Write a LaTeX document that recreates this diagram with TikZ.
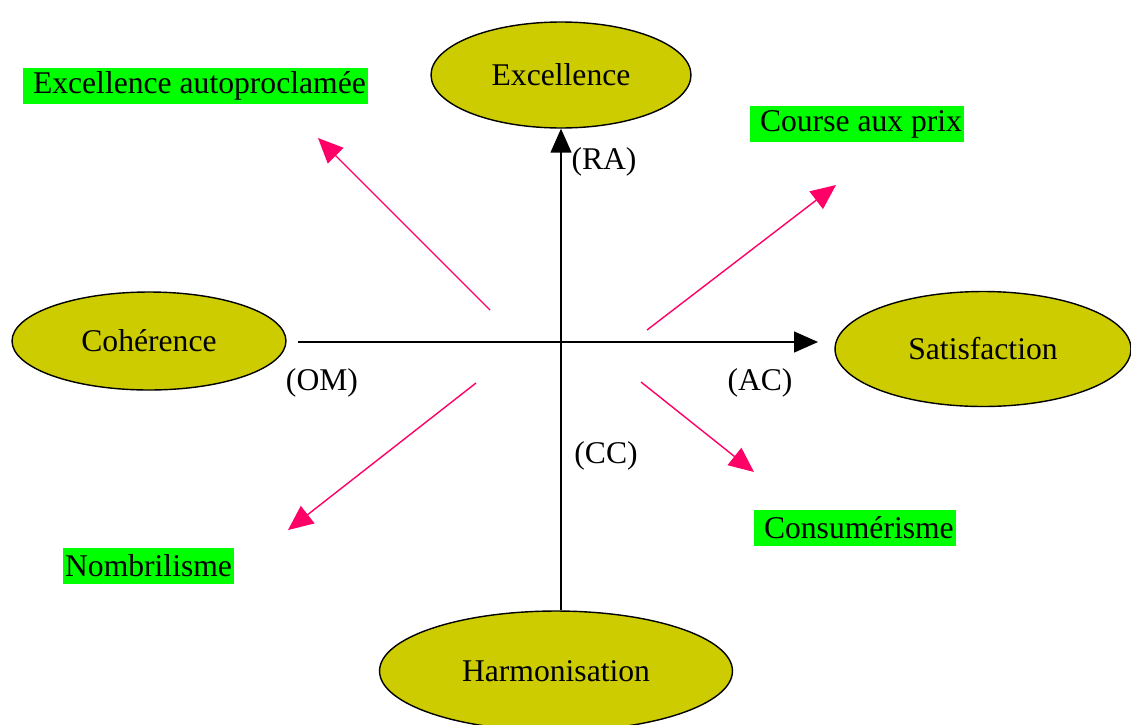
\documentclass[tikz,border=0pt]{standalone}
\usepackage{fontspec}
\setmainfont{Liberation Serif}
\usetikzlibrary{positioning,arrows.meta,shapes.geometric}

\definecolor{olivefill}{HTML}{CCCC00}
\definecolor{tagfill}{HTML}{00FF00}
\definecolor{pinkline}{HTML}{FF0066}

\begin{document}
\begin{tikzpicture}[
      x=0.02cm, y=-0.02cm,
      every node/.style={font=\fontsize{18}{21}\selectfont},
      pole/.style={draw, ellipse, fill=olivefill, line width=0.8pt, inner sep=0pt},
      greentag/.style={fill=tagfill, inner xsep=1pt, inner ysep=0pt,
                       minimum height=0.72cm, anchor=west},
      axis/.style={line width=0.8pt, -{Triangle[length=0.48cm, width=0.42cm]}},
      drift/.style={pinkline, line width=0.8pt, -{Triangle[length=0.5cm, width=0.44cm]}},
    ]
    \useasboundingbox (0,0) rectangle (1131,724);

    % --- poles ---
    \node[pole, minimum width=5.2cm, minimum height=2.12cm] (exc) at (561,75) {Excellence};
    \node[pole, minimum width=5.48cm, minimum height=1.96cm] (coh) at (149,341) {Cohérence};
    \node[pole, minimum width=5.92cm, minimum height=2.3cm] (sat) at (983,349) {Satisfaction};
    \node[pole, minimum width=7.06cm, minimum height=2.4cm] (harm) at (556,671) {Harmonisation};

    % --- axes ---
    \coordinate (omstart) at (298,342);
    \coordinate (acend) at (818,342);
    \draw[axis] (exc.south |- harm.north) -- (exc.south);
    \draw[axis] (omstart) -- (acend);

    \node (ra) at (604,162) {(RA)};
    \node (om) at (322,383) {(OM)};
    \node (ac) at (760,383) {(AC)};
    \node (cc) at (606,456) {(CC)};

    % --- drifts ---
    \coordinate (nwa) at (490,310);  \coordinate (nwb) at (318,138);
    \coordinate (nea) at (647,330);  \coordinate (neb) at (836,185);
    \coordinate (swa) at (476,383);  \coordinate (swb) at (288,530);
    \coordinate (sea) at (641,382);  \coordinate (seb) at (754,472);
    \draw[drift] (nwa) -- (nwb);
    \draw[drift] (nea) -- (neb);
    \draw[drift] (swa) -- (swb);
    \draw[drift] (sea) -- (seb);

    \node[greentag] (autoexc) at (23,86) {\ Excellence autoproclamée};
    \node[greentag] (prix) at (750,124) {\ Course aux prix};
    \node[greentag] (nombril) at (63,566) {Nombrilisme};
    \node[greentag] (conso) at (754,528) {\ Consumérisme};
  \end{tikzpicture}
\end{document}
